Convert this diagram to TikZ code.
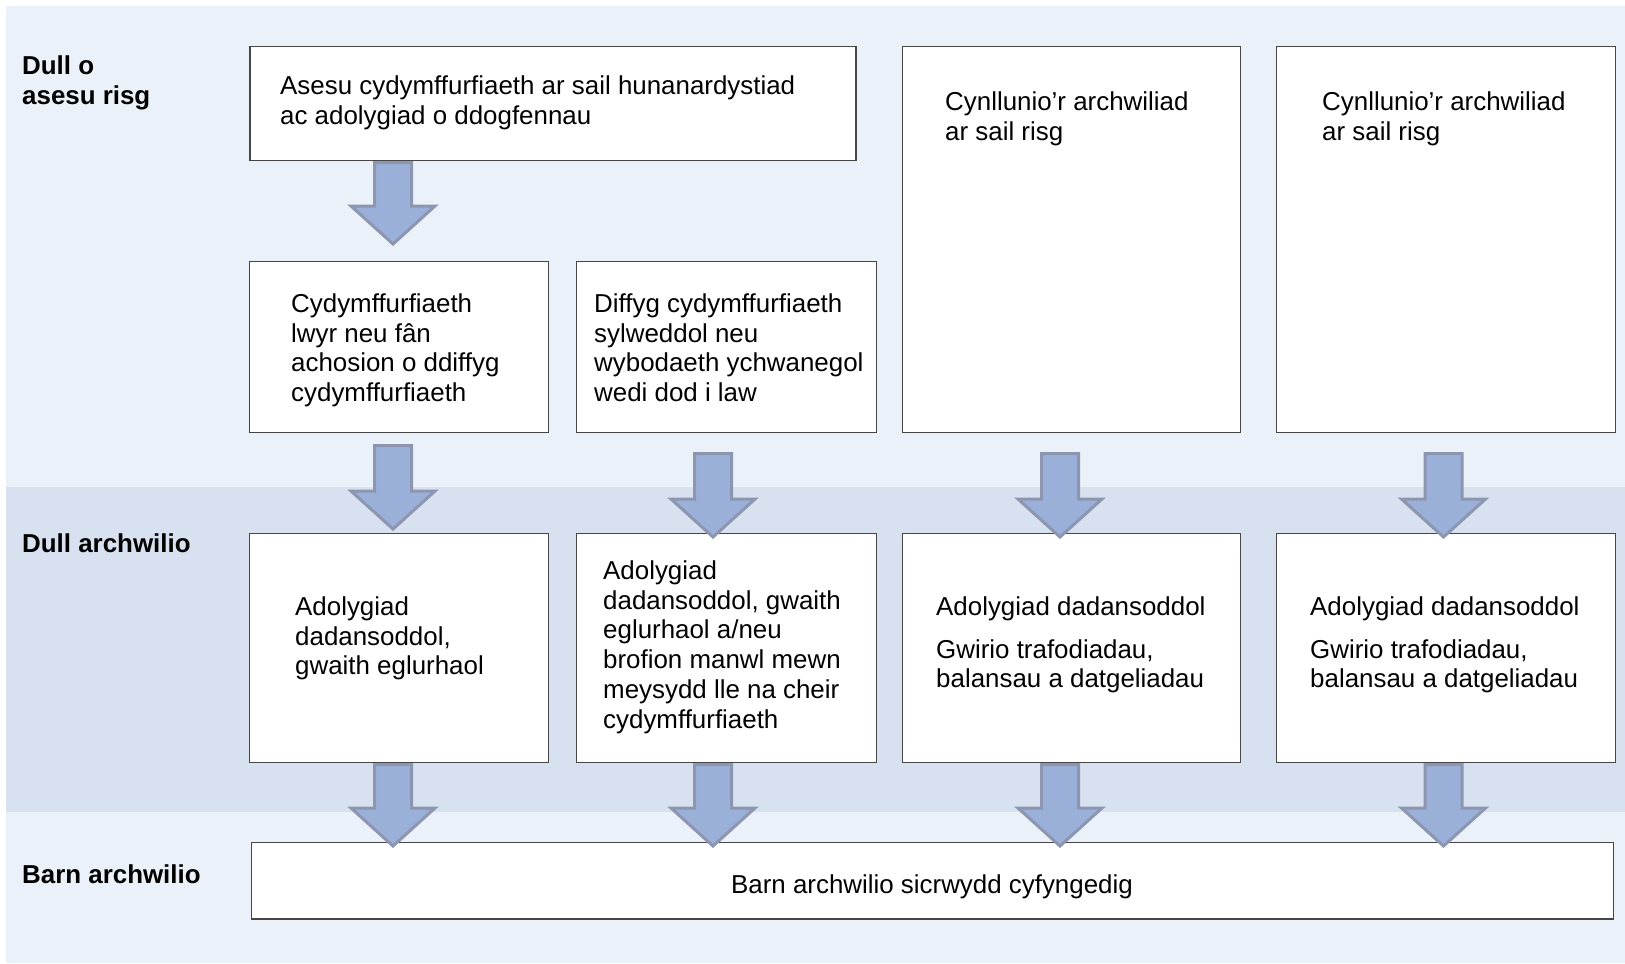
\documentclass[tikz,border=0pt]{standalone}
\usepackage{fontspec}
\setmainfont{Liberation Sans}
\definecolor{bandlight}{RGB}{234,241,248}
\definecolor{banddark}{RGB}{216,225,240}
\definecolor{arrowfill}{RGB}{155,176,216}
\definecolor{arrowline}{RGB}{140,150,176}
\definecolor{boxline}{RGB}{70,70,70}
\newcommand\barrow[3]{\draw[blockarrow] (#1-18.5,#2+1.5) -- (#1+18.5,#2+1.5) -- (#1+18.5,#3-41) -- (#1+42,#3-41) -- (#1,#3-3) -- (#1-42,#3-41) -- (#1-18.5,#3-41) -- cycle;}
\newcommand\boxat[5]{\node[stagebox, minimum width={#4-#2}, minimum height={#5-#3}] (#1) at ({(#2+#4)/2},{(#3+#5)/2}) {};}
\newcommand\fs{\rule{0pt}{24bp}}
\begin{document}
\begin{tikzpicture}[x=1bp,y=-1bp,
  stagebox/.style={draw=boxline, line width=1.3bp, fill=white, inner sep=0pt, rectangle},
  blockarrow/.style={fill=arrowfill, draw=arrowline, line width=3bp, line join=miter},
  txt/.style={anchor=north west, yshift=24bp, align=left, inner sep=0pt, font=\fontsize{26}{30}\selectfont},
  lbl/.style={anchor=north west, yshift=24bp, align=left, inner sep=0pt, font=\fontsize{26}{30}\selectfont\bfseries},
  ctxt/.style={anchor=base, inner sep=0pt, font=\fontsize{26}{30}\selectfont}]
\useasboundingbox (0,0) rectangle (1625,963);
\fill[white] (0,0) rectangle (1625,963);
\fill[bandlight] (6,6) rectangle (1625,963);
\fill[banddark] (6,487) rectangle (1625,812);
% boxes
\boxat{a}{249}{46}{857}{161}
\boxat{b1}{249}{261}{549}{433}
\boxat{b2}{576}{261}{877}{433}
\boxat{c}{902}{46}{1241}{433}
\boxat{d}{1276}{46}{1616}{433}
\boxat{r1}{249}{533}{549}{763}
\boxat{r2}{576}{533}{877}{763}
\boxat{r3}{902}{533}{1241}{763}
\boxat{r4}{1276}{533}{1616}{763}
\boxat{bot}{249}{842}{1616}{919}
% labels
\node[lbl] (l1) at (22,74) {\fs Dull o\\asesu risg};
\node[lbl] (l2) at (22,552) {\fs Dull archwilio};
\node[lbl] (l3) at (22,883) {\fs Barn archwilio};
% texts
\node[txt] (ta) at (280,94) {\fs Asesu cydymffurfiaeth ar sail hunanardystiad\\ac adolygiad o ddogfennau};
\node[txt] (tb1) at (291,312) {\fs Cydymffurfiaeth\\lwyr neu fân\\achosion o ddiffyg\\cydymffurfiaeth};
\node[txt] (tb2) at (594,312) {\fs Diffyg cydymffurfiaeth\\sylweddol neu\\wybodaeth ychwanegol\\wedi dod i law};
\node[txt] (tc) at (945,110) {\fs Cynllunio’r archwiliad\\ar sail risg};
\node[txt] (td) at (1322,110) {\fs Cynllunio’r archwiliad\\ar sail risg};
\node[txt] (tr1) at (295,615) {\fs Adolygiad\\dadansoddol,\\gwaith eglurhaol};
\node[txt] (tr2) at (603,579) {\fs Adolygiad\\dadansoddol, gwaith\\eglurhaol a/neu\\brofion manwl mewn\\meysydd lle na cheir\\cydymffurfiaeth};
\node[txt] (tr3) at (936,615) {\fs Adolygiad dadansoddol\\[13bp]Gwirio trafodiadau,\\balansau a datgeliadau};
\node[txt] (tr4) at (1310,615) {\fs Adolygiad dadansoddol\\[13bp]Gwirio trafodiadau,\\balansau a datgeliadau};
\node[ctxt] (tbot) at (932,893) {Barn archwilio sicrwydd cyfyngedig};
% arrows
\barrow{393}{161}{247}
\barrow{393}{444}{532}
\barrow{713}{452}{540}
\barrow{1060}{452}{540}
\barrow{1443.5}{452}{540}
\barrow{393}{763}{849}
\barrow{713}{763}{849}
\barrow{1060}{763}{849}
\barrow{1443.5}{763}{849}
\end{tikzpicture}
\end{document}
